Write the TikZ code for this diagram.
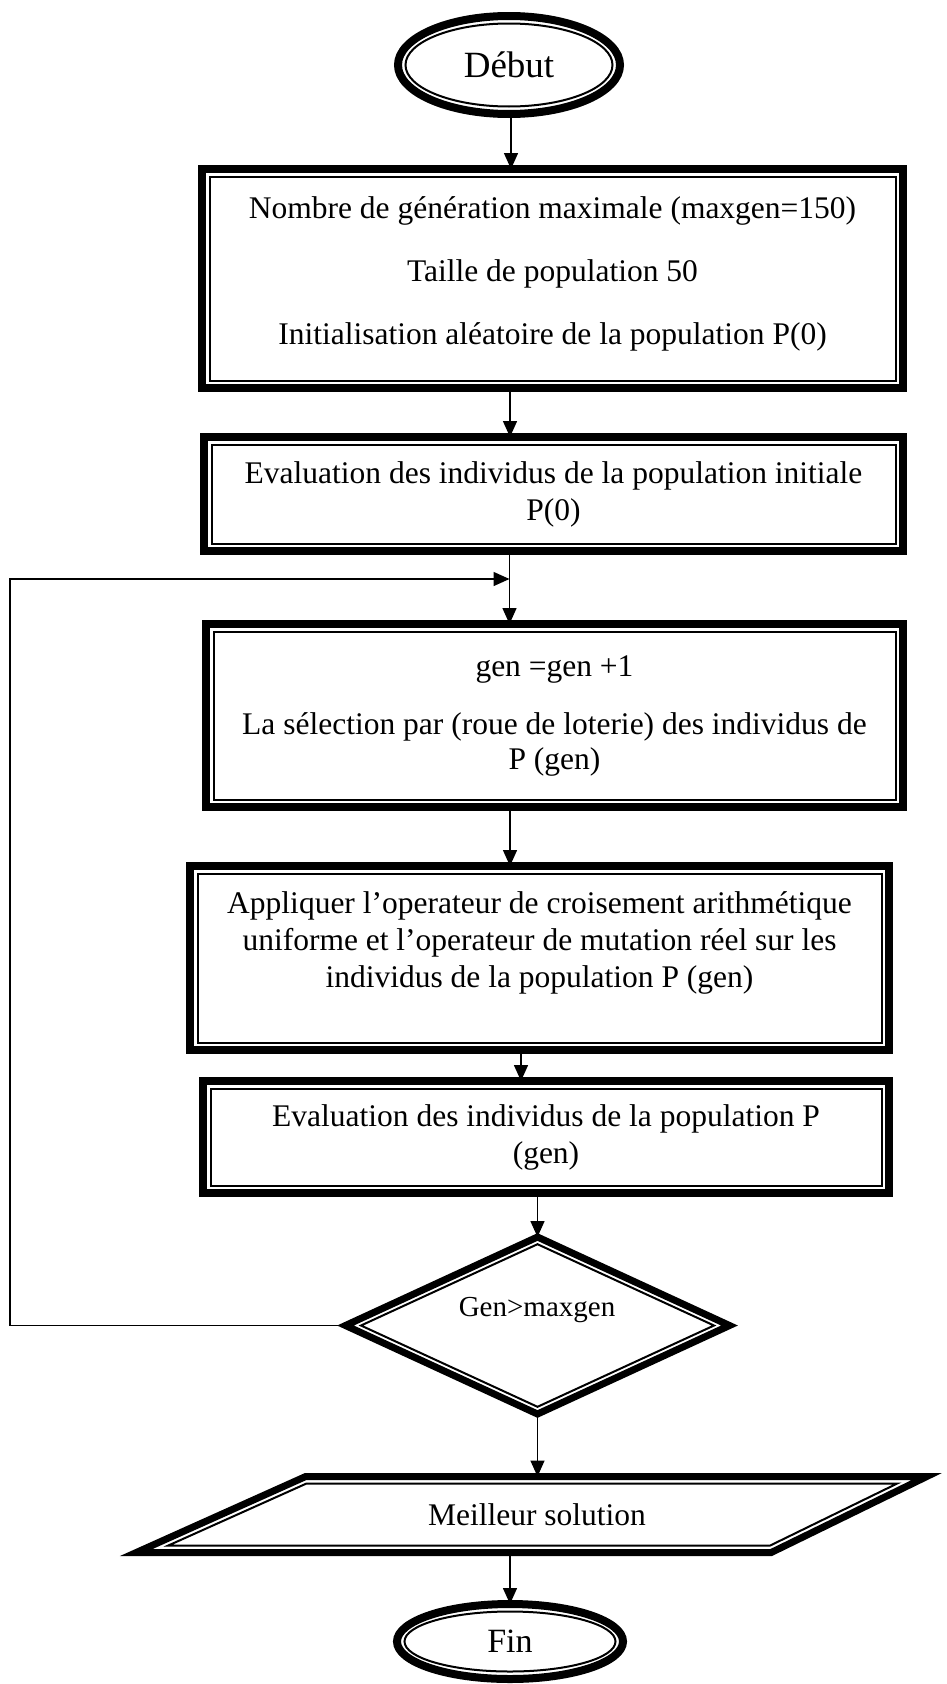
\documentclass[tikz,border=0pt]{standalone}
\usepackage{fontspec}
\setmainfont{Liberation Serif}
\usetikzlibrary{shapes.geometric,arrows.meta}

% font sizes used in the chart
\newcommand\boxfont{\fontsize{31.5}{37}\selectfont}
\newcommand\termfont{\fontsize{37}{40}\selectfont}
\newcommand\finfont{\fontsize{34}{38}\selectfont}
\newcommand\testfont{\fontsize{29}{33}\selectfont}

% thin inner line of a thick-thin rectangular frame
\newcommand\innerrect[1]{%
  \draw[thinrim] ([shift={(7.5pt,-7.5pt)}]#1.north west)
    rectangle ([shift={(-7.5pt,7.5pt)}]#1.south east);}

\tikzset{
  thickrim/.style={draw=black, line width=8pt, inner sep=0pt, outer sep=0pt},
  thinrim/.style={draw=black, line width=2pt},
  stepbox/.style={thickrim, rectangle, align=center, font=\boxfont},
  terminal/.style={thickrim, ellipse},
  test/.style={draw=black, line width=7pt, inner sep=0pt, outer sep=0pt,
    diamond, font=\testfont},
  arr/.style={line width=1.5pt, -{Triangle[length=16pt,width=14pt]}},
}

\begin{document}
\begin{tikzpicture}[x=1pt,y=-1pt]
\useasboundingbox (0,0) rectangle (947,1684);

% ---- start
\node[terminal, minimum width=222pt, minimum height=98pt, font=\termfont]
  (debut) at (509,65) {Début};
\draw[thinrim] (debut.center) ellipse [x radius=103.5pt, y radius=41.5pt];

% ---- initialisation
\node[stepbox, minimum width=701pt, minimum height=219pt] (b1) at (552.5,278.5)
  {Nombre de génération maximale (maxgen=150)\\[26pt]
   Taille de population 50\\[26pt]
   Initialisation aléatoire de la population P(0)\\[-22pt]\mbox{}};
\innerrect{b1}

% ---- first evaluation
\node[stepbox, minimum width=699pt, minimum height=114pt] (b2) at (553.5,494)
  {Evaluation des individus de la population initiale\\ P(0)};
\innerrect{b2}

% ---- selection
\node[stepbox, minimum width=697pt, minimum height=183pt] (b3) at (554.5,715.5)
  {gen =gen +1\\[21pt]
   La sélection par (roue de loterie) des individus de\\[-2pt] P (gen)};
\innerrect{b3}

% ---- crossover and mutation
\node[stepbox, minimum width=699pt, minimum height=184pt] (b4) at (539.5,958)
  {Appliquer l’operateur de croisement arithmétique\\
   uniforme et l’operateur de mutation réel sur les\\
   individus de la population P (gen)\\ \mbox{}};
\innerrect{b4}

% ---- evaluation
\node[stepbox, minimum width=686pt, minimum height=112pt] (b5) at (546,1137)
  {Evaluation des individus de la population P\\ (gen)};
\innerrect{b5}

% ---- stopping test
\node[test, minimum width=384pt, minimum height=177pt] (dia) at (537.5,1325.5) {};
\node[font=\testfont, inner sep=0pt] (diatext) at (537,1310) {Gen>maxgen};
\draw[thinrim] ([yshift=-7.2pt]dia.north) -- ([xshift=-15.5pt]dia.east)
  -- ([yshift=7.2pt]dia.south) -- ([xshift=15.5pt]dia.west) -- cycle;

% ---- output
\node[rectangle, inner sep=0pt, outer sep=0pt, minimum width=620pt,
  minimum height=76pt, font=\boxfont] (best) at (537,1514.5) {Meilleur solution};
\draw[line width=7pt, line join=miter]
  (136.3,1552.5) -- (305.7,1476.5) -- (926.8,1476.5) -- (771.2,1552.5) -- cycle;
\draw[thinrim]
  (168.3,1545.5) -- (306.5,1483.5) -- (897.2,1483.5) -- (770.2,1545.5) -- cycle;

% ---- end
\node[terminal, minimum width=226pt, minimum height=75pt, font=\finfont]
  (fin) at (510,1641.5) {Fin};
\draw[thinrim] (fin.center) ellipse [x radius=105.5pt, y radius=30pt];

% ---- connector axes
\coordinate (ax1) at (511,0);
\coordinate (ax2) at (510,0);
\coordinate (merge) at (509.5,579);
\coordinate (ax4) at (510,0);
\coordinate (ax5) at (521,0);
\coordinate (ax6) at (537.5,0);
\coordinate (ax8) at (510,0);
\coordinate (loopL) at (10,579);

\draw[arr] (debut.south -| ax1) -- (b1.north -| ax1);
\draw[arr] (b1.south -| ax2) -- (b2.north -| ax2);
\draw[arr] (b2.south -| merge) -- (b3.north -| merge);
\draw[arr] (b3.south -| ax4) -- (b4.north -| ax4);
\draw[arr] (b4.south -| ax5) -- (b5.north -| ax5);
\draw[arr] (b5.south -| ax6) -- (dia.north);
\draw[arr] (dia.south) -- (best.north -| ax6);
\draw[arr] (best.south -| ax8) -- (fin.north -| ax8);

% ---- loop back to the selection step
\draw[arr] (dia.west) -| (loopL) -- (merge);
\end{tikzpicture}
\end{document}
